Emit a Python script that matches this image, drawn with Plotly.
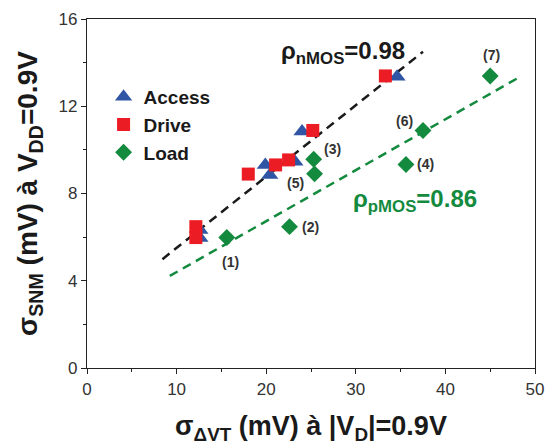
import plotly.graph_objects as go

# Data
access_x = [34.6, 24.0, 19.9, 20.4, 23.2, 12.6, 12.6]
access_y = [13.35, 10.84, 9.31, 8.85, 9.46, 6.33, 5.96]
drive_x = [33.3, 25.2, 22.5, 21.05, 18.0, 12.15, 12.15]
drive_y = [13.39, 10.89, 9.54, 9.31, 8.89, 6.48, 5.98]
load_x = [15.6, 22.6, 25.3, 35.6, 25.4, 37.5, 45.0]
load_y = [5.98, 6.48, 9.57, 9.33, 8.90, 10.89, 13.39]
load_labels = ["(1)", "(2)", "(3)", "(4)", "(5)", "(6)", "(7)"]
nmos_fit_x = [8.42, 37.5]
nmos_fit_y = [4.99, 14.5]
pmos_fit_x = [9.24, 48.5]
pmos_fit_y = [4.22, 13.39]
x_ticks = [0, 10, 20, 30, 40, 50]
y_ticks = [0, 4, 8, 12, 16]

BLUE = "#2f55a4"
RED = "#ec1c24"
GREEN = "#138a3e"
FONT = "Arial, Liberation Sans"

fig = go.Figure()
fig.add_trace(go.Scatter(x=nmos_fit_x, y=nmos_fit_y, mode="lines",
                         line=dict(color="#1a1a1a", width=2.5, dash="9px,6px"),
                         showlegend=False, hoverinfo="skip"))
fig.add_trace(go.Scatter(x=pmos_fit_x, y=pmos_fit_y, mode="lines",
                         line=dict(color=GREEN, width=2.5, dash="9px,6px"),
                         showlegend=False, hoverinfo="skip"))
fig.add_trace(go.Scatter(x=access_x, y=access_y, mode="markers", name="<b>Access</b>",
                         legendgroup="a",
                         marker=dict(symbol="triangle-up", size=15, color=BLUE)))
fig.add_trace(go.Scatter(x=drive_x, y=drive_y, mode="markers", name="<b>Drive</b>",
                         legendgroup="b",
                         marker=dict(symbol="square", size=13, color=RED)))
fig.add_trace(go.Scatter(x=load_x, y=load_y, mode="markers", name="<b>Load</b>",
                         legendgroup="c",
                         marker=dict(symbol="diamond", size=13, color=GREEN)))

shifts = [(4, -24), (21, 0), (19, 10), (20, 0), (-19, -9), (-19, 9), (1, 21)]
for xv, yv, lab, (dx, dy) in zip(load_x, load_y, load_labels, shifts):
    fig.add_annotation(x=xv, y=yv, text="<b>" + lab + "</b>", showarrow=False,
                       xshift=dx, yshift=dy,
                       font=dict(family=FONT, size=14, color="#333333"),
                       xanchor="center", yanchor="middle")

fig.add_annotation(x=0.571, y=0.905, xref="paper", yref="paper",
                   text="<b>ρ<sub>nMOS</sub>=0.98</b>", showarrow=False,
                   font=dict(family=FONT, size=24, color="#1a1a1a"),
                   xanchor="center", yanchor="middle")
fig.add_annotation(x=0.733, y=0.48, xref="paper", yref="paper",
                   text="<b>ρ<sub>pMOS</sub>=0.86</b>", showarrow=False,
                   font=dict(family=FONT, size=24, color=GREEN),
                   xanchor="center", yanchor="middle")

axis_common = dict(showgrid=False, zeroline=False, showline=True, linecolor="#222222",
                   linewidth=1.2, mirror=True, ticks="outside", tickcolor="#222222",
                   ticklen=5, tickwidth=1, automargin=False,
                   tickfont=dict(family=FONT, size=17, color="#333333"))

fig.update_xaxes(range=[0, 50], tickvals=x_ticks, title=dict(
    text="<b>σ<sub>ΔVT</sub> (mV) à |V<sub>D</sub>|=0.9V</b>",
    font=dict(family=FONT, size=27, color="#1a1a1a"), standoff=18),
    minor=dict(dtick=5, ticks="outside", ticklen=3, tickcolor="#222222"),
    **axis_common)
fig.update_yaxes(range=[0, 16], tickvals=y_ticks, title=dict(
    text="<b>σ<sub>SNM</sub> (mV) à V<sub>DD</sub>=0.9V</b>",
    font=dict(family=FONT, size=28, color="#1a1a1a"), standoff=12),
    minor=dict(dtick=2, ticks="outside", ticklen=3, tickcolor="#222222"),
    **axis_common)

fig.update_layout(
    width=545, height=446,
    margin=dict(l=87, r=10, t=19, b=78),
    plot_bgcolor="white", paper_bgcolor="white",
    legend=dict(x=0.037, y=0.831, xanchor="left", yanchor="top",
                bgcolor="rgba(0,0,0,0)", tracegroupgap=0,
                font=dict(family=FONT, size=19, color="#1a1a1a"),
                itemwidth=30),
    font=dict(family=FONT),
)

fig.write_html("out.html", config={"displayModeBar": False},
               post_script="document.body.style.margin='0';document.body.style.overflow='hidden';")
